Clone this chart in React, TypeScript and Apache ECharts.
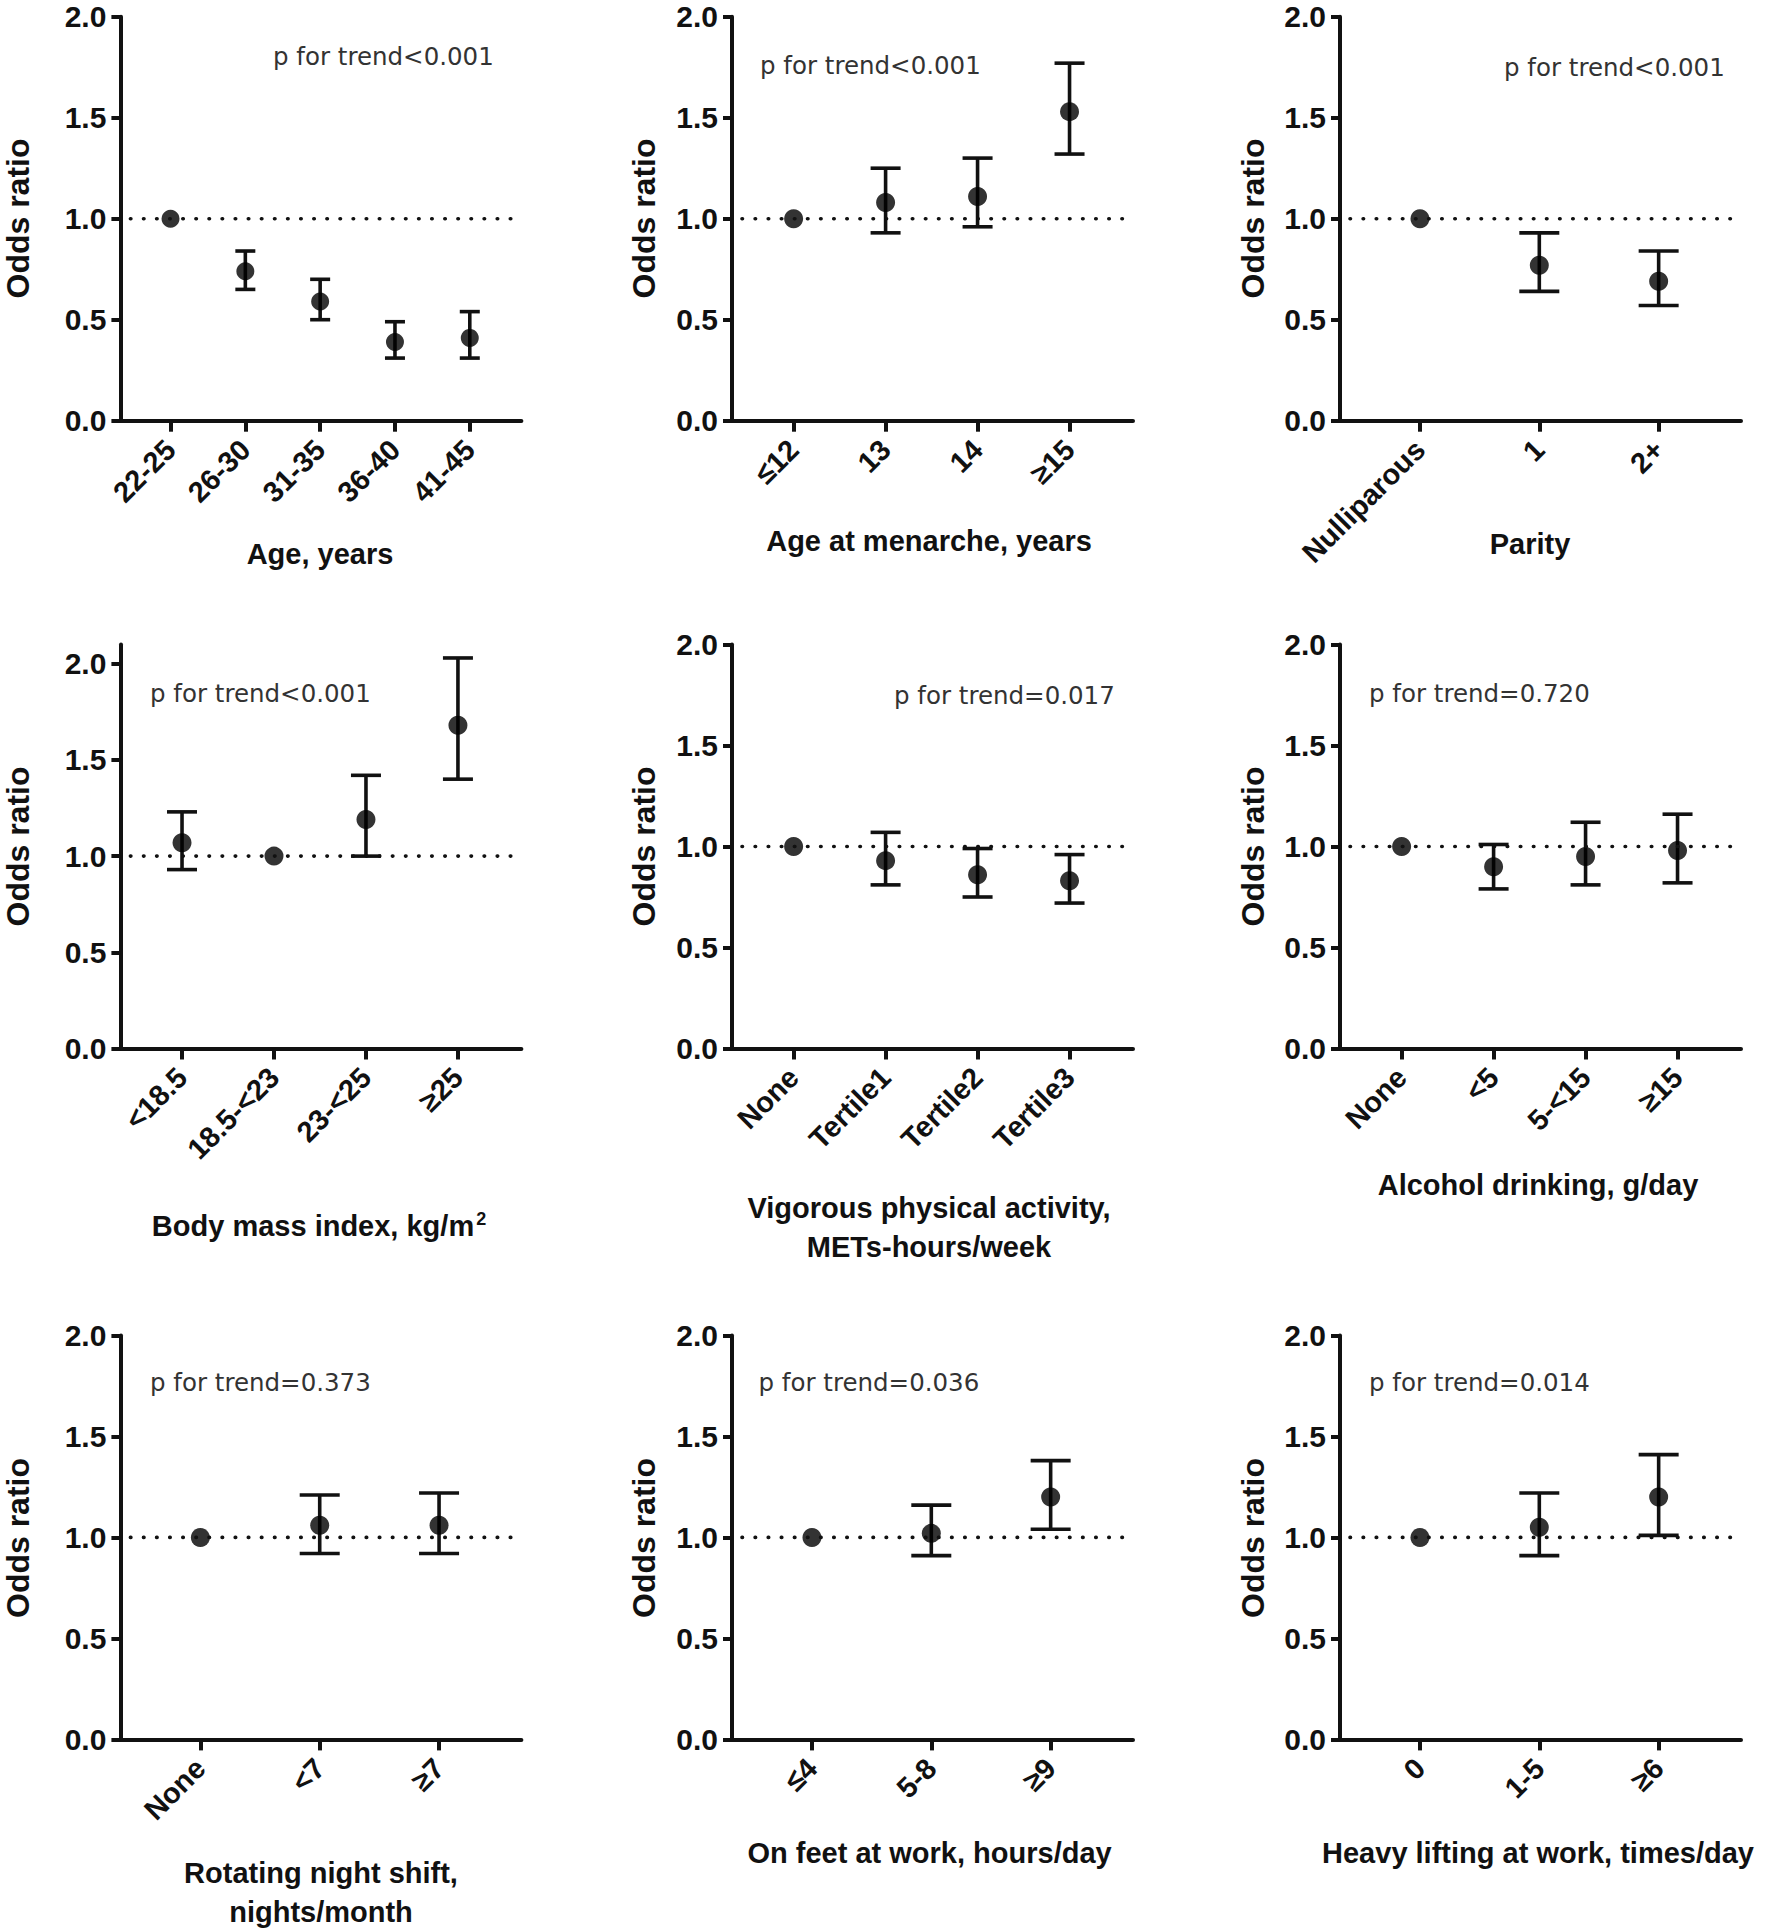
import React, { useEffect, useRef } from "react";
import * as echarts from "echarts";

// ---------------- data ----------------
const ageCats = ["22-25", "26-30", "31-35", "36-40", "41-45"];
const ageOR = [1.0, 0.74, 0.59, 0.39, 0.41];
const ageLo = [null, 0.65, 0.5, 0.31, 0.31];
const ageHi = [null, 0.84, 0.7, 0.49, 0.54];

const menCats = ["≤12", "13", "14", "≥15"];
const menOR = [1.0, 1.08, 1.11, 1.53];
const menLo = [null, 0.93, 0.96, 1.32];
const menHi = [null, 1.25, 1.3, 1.77];

const parCats = ["Nulliparous", "1", "2+"];
const parOR = [1.0, 0.77, 0.69];
const parLo = [null, 0.64, 0.57];
const parHi = [null, 0.93, 0.84];

const bmiCats = ["<18.5", "18.5-<23", "23-<25", "≥25"];
const bmiOR = [1.07, 1.0, 1.19, 1.68];
const bmiLo = [0.93, null, 1.0, 1.4];
const bmiHi = [1.23, null, 1.42, 2.03];

const vpaCats = ["None", "Tertile1", "Tertile2", "Tertile3"];
const vpaOR = [1.0, 0.93, 0.86, 0.83];
const vpaLo = [null, 0.81, 0.75, 0.72];
const vpaHi = [null, 1.07, 0.99, 0.96];

const alcCats = ["None", "<5", "5-<15", "≥15"];
const alcOR = [1.0, 0.9, 0.95, 0.98];
const alcLo = [null, 0.79, 0.81, 0.82];
const alcHi = [null, 1.01, 1.12, 1.16];

const nightCats = ["None", "<7", "≥7"];
const nightOR = [1.0, 1.06, 1.06];
const nightLo = [null, 0.92, 0.92];
const nightHi = [null, 1.21, 1.22];

const feetCats = ["≤4", "5-8", "≥9"];
const feetOR = [1.0, 1.02, 1.2];
const feetLo = [null, 0.91, 1.04];
const feetHi = [null, 1.16, 1.38];

const liftCats = ["0", "1-5", "≥6"];
const liftOR = [1.0, 1.05, 1.2];
const liftLo = [null, 0.91, 1.01];
const liftHi = [null, 1.22, 1.41];

const pTrendTexts = [
  "p for trend<0.001",
  "p for trend<0.001",
  "p for trend<0.001",
  "p for trend<0.001",
  "p for trend=0.017",
  "p for trend=0.720",
  "p for trend=0.373",
  "p for trend=0.036",
  "p for trend=0.014",
];

const xTitleLines = [
  ["Age, years"],
  ["Age at menarche, years"],
  ["Parity"],
  ["Body mass index, kg/m{sup|2}"],
  ["Vigorous physical activity,", "METs-hours/week"],
  ["Alcohol drinking, g/day"],
  ["Rotating night shift,", "nights/month"],
  ["On feet at work, hours/day"],
  ["Heavy lifting at work, times/day"],
];

const yTitle = "Odds ratio";
const yTickValues = [0, 0.5, 1.0, 1.5, 2.0];
const yMaxes = [2, 2, 2, 2.1, 2, 2, 2, 2, 2];
const refValue = 1.0;

const panels = [
  { cats: ageCats, or: ageOR, lo: ageLo, hi: ageHi },
  { cats: menCats, or: menOR, lo: menLo, hi: menHi },
  { cats: parCats, or: parOR, lo: parLo, hi: parHi },
  { cats: bmiCats, or: bmiOR, lo: bmiLo, hi: bmiHi },
  { cats: vpaCats, or: vpaOR, lo: vpaLo, hi: vpaHi },
  { cats: alcCats, or: alcOR, lo: alcLo, hi: alcHi },
  { cats: nightCats, or: nightOR, lo: nightLo, hi: nightHi },
  { cats: feetCats, or: feetOR, lo: feetLo, hi: feetHi },
  { cats: liftCats, or: liftOR, lo: liftLo, hi: liftHi },
];

// ---------------- layout ----------------
const W = 1770;
const H = 1931;
const colLeft = [120.4, 732, 1340];
const plotW = 401;
const rowTop = [16.7, 644.5, 1335.4];
const plotH = 404;
const pPos = [
  [273, 56], [760, 65], [1504, 67],
  [150, 693.5], [894, 695.5], [1369, 693.5],
  [150, 1382.5], [758.5, 1382.5], [1369, 1382.5],
];
const xTitlePos = [
  [320, 553.7], [929, 540.7], [1530, 544],
  [319, 1226], [929, 1207.8], [1538, 1185.3],
  [321, 1873.4], [929.6, 1853.3], [1538, 1853.3],
];
const yTitleX = [18, 644, 1253];
const yTitleY = [218.5, 846.5, 1538];
const capPxByN: Record<number, number> = { 5: 20, 4: 30, 3: 40 };
const dotPxByN: Record<number, number> = { 5: 18, 4: 19, 3: 19 };

const INK = "#111";
const BOLD = 'Arial, "Liberation Sans", sans-serif';

export default function App() {
  const ref = useRef<HTMLDivElement>(null);
  useEffect(() => {
    document.body.style.margin = "0";
    if (!ref.current) return;
    const chart = echarts.init(ref.current, null, { renderer: "svg" });

    const grids: any[] = [];
    const xAxes: any[] = [];
    const yAxes: any[] = [];
    const series: any[] = [];
    const graphics: any[] = [];

    panels.forEach((p, i) => {
      const col = i % 3;
      const row = Math.floor(i / 3);
      const n = p.cats.length;
      const xmin = -0.67;
      const xmax = n - 1 + 0.69;
      grids.push({ left: colLeft[col], top: rowTop[row], width: plotW, height: plotH, containLabel: false });
      const idx = p.cats.map((_, k) => k);
      xAxes.push({
        type: "value",
        gridIndex: i,
        min: xmin,
        max: xmax,
        axisLine: { show: true, onZero: false, lineStyle: { color: INK, width: 4 } },
        axisTick: { show: true, length: 11, customValues: idx, lineStyle: { color: INK, width: 4 } },
        axisLabel: {
          customValues: idx,
          formatter: (v: number) => p.cats[Math.round(v)],
          rotate: 45,
          margin: 24,
          fontSize: 29,
          fontWeight: "bold",
          fontFamily: BOLD,
          color: INK,
        },
        splitLine: { show: false },
      });
      yAxes.push({
        type: "value",
        gridIndex: i,
        min: 0,
        max: yMaxes[i],
        axisLine: { show: true, onZero: false, lineStyle: { color: INK, width: 4 } },
        axisTick: { show: true, length: 9, customValues: yTickValues, lineStyle: { color: INK, width: 4 } },
        axisLabel: {
          customValues: yTickValues,
          formatter: (v: number) => v.toFixed(1),
          margin: 14,
          fontSize: 30,
          fontWeight: "bold",
          fontFamily: BOLD,
          color: INK,
        },
        splitLine: { show: false },
      });

      const pad = (10 * (xmax - xmin)) / plotW;
      series.push({
        type: "line",
        xAxisIndex: i,
        yAxisIndex: i,
        data: [[xmin + pad, refValue], [xmax - pad, refValue]],
        symbol: "none",
        silent: true,
        lineStyle: { color: INK, width: 3.6, type: [0.5, 12.6], cap: "round" },
      });

      const cap = capPxByN[n] || 30;
      const ci = p.cats
        .map((_, k) => [k, p.lo[k], p.hi[k]])
        .filter((d) => d[1] != null && d[2] != null);
      series.push({
        type: "custom",
        xAxisIndex: i,
        yAxisIndex: i,
        data: ci,
        renderItem: (params: any, api: any) => {
          const x = api.value(0);
          const a = api.coord([x, api.value(2)]);
          const b = api.coord([x, api.value(1)]);
          const h = cap / 2;
          const st = { stroke: INK, lineWidth: 3.6 };
          return {
            type: "group",
            children: [
              { type: "line", shape: { x1: a[0], y1: a[1], x2: b[0], y2: b[1] }, style: st },
              { type: "line", shape: { x1: a[0] - h, y1: a[1], x2: a[0] + h, y2: a[1] }, style: st },
              { type: "line", shape: { x1: b[0] - h, y1: b[1], x2: b[0] + h, y2: b[1] }, style: st },
            ],
          };
        },
      });

      series.push({
        type: "scatter",
        xAxisIndex: i,
        yAxisIndex: i,
        data: p.or.map((v, k) => [k, v]),
        symbol: "circle",
        symbolSize: dotPxByN[n] || 19,
        itemStyle: { color: "#000" },
      });

      // p for trend
      graphics.push({
        type: "text",
        x: pPos[i][0],
        y: pPos[i][1],
        style: {
          text: pTrendTexts[i],
          fontSize: 24.5,
          fontFamily: '"DejaVu Sans", sans-serif',
          fill: "#333",
          align: "left",
          verticalAlign: "middle",
        },
      });

      // x title
      const lines = xTitleLines[i];
      lines.forEach((ln, li) => {
        const y0 = xTitlePos[i][1] + (lines.length > 1 ? li * 39 : 0);
        graphics.push({
          type: "text",
          x: xTitlePos[i][0],
          y: y0,
          style: {
            text: ln,
            fontSize: 29,
            fontWeight: "bold",
            fontFamily: BOLD,
            fill: INK,
            align: "center",
            verticalAlign: "middle",
            rich: {
              sup: { fontSize: 18, fontWeight: "bold", fontFamily: BOLD, fill: INK, verticalAlign: "top", padding: [0, 0, 14, 2] },
            },
          },
        });
      });

      // y title
      graphics.push({
        type: "text",
        x: yTitleX[col],
        y: yTitleY[row],
        rotation: Math.PI / 2,
        style: {
          text: yTitle,
          fontSize: 32,
          fontWeight: "bold",
          fontFamily: BOLD,
          fill: INK,
          align: "center",
          verticalAlign: "middle",
        },
      });
    });

    chart.setOption({
      animation: false,
      backgroundColor: "#fff",
      grid: grids,
      xAxis: xAxes,
      yAxis: yAxes,
      series,
      graphic: graphics,
    });
    return () => chart.dispose();
  }, []);
  return <div ref={ref} style={{ width: W, height: H }} />;
}
